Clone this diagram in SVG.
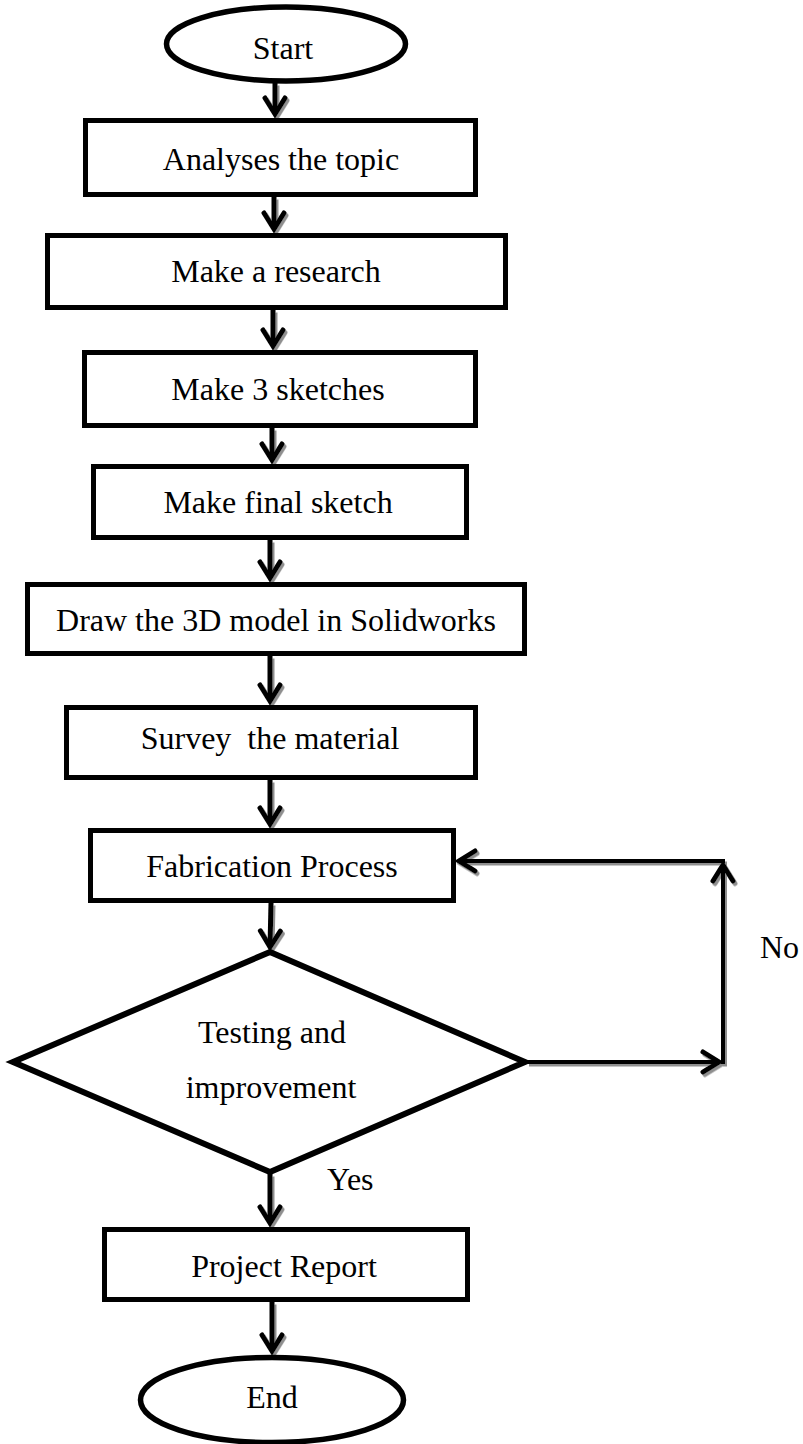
<svg xmlns="http://www.w3.org/2000/svg" width="803" height="1444" viewBox="0 0 803 1444">
<style>
.box{fill:#fff;stroke:#000;stroke-width:5}
.term{fill:#fff;stroke:#000;stroke-width:5.5}
.dec{fill:#fff;stroke:#000;stroke-width:6;stroke-linejoin:miter}
.lbl{font-family:"Liberation Serif","Times New Roman",serif;font-size:32px;fill:#000;text-anchor:middle}
.edge{font-family:"Liberation Serif","Times New Roman",serif;font-size:32px;fill:#000}
.conn{fill:none;stroke:#000;stroke-width:5;marker-end:url(#arr)}
.thin{stroke-width:4}
</style>
<defs>
<marker id="arr" viewBox="-20 -13 26 26" refX="0" refY="0" markerWidth="26" markerHeight="26" markerUnits="userSpaceOnUse" orient="auto">
<path d="M-16,-10 L0,0 L-16,10" fill="none" stroke="#000" stroke-width="5" stroke-linecap="round"/>
</marker>
<filter id="sh" x="-20%" y="-20%" width="140%" height="140%">
<feDropShadow dx="2" dy="2.5" stdDeviation="0.6" flood-color="#7a7a7a" flood-opacity="0.85"/>
</filter>
</defs>
<rect width="803" height="1444" fill="#fff"/>

<g id="connectors" filter="url(#sh)">
<path class="conn" d="M275,83 L275,114"/>
<path class="conn" d="M274,197 L274,229"/>
<path class="conn" d="M273,310 L273,346"/>
<path class="conn" d="M272,428 L272,460"/>
<path class="conn" d="M270,540 L270,578"/>
<path class="conn" d="M270,656 L270,701"/>
<path class="conn" d="M270,780 L270,824"/>
<path class="conn" d="M271,903 L270,947"/>
<path class="conn" d="M270,1174 L270,1223"/>
<path class="conn" d="M272,1302 L272,1351"/>
<path class="conn thin" d="M527,1062 L719,1062"/>
<path class="conn thin" d="M723,1064 L723,865"/>
<path class="conn thin" d="M725,861 L459,861"/>
</g>

<g id="start">
<ellipse class="term" cx="286" cy="44" rx="119.5" ry="37"/>
<text class="lbl" x="283" y="59">Start</text>
</g>
<g id="analyses">
<rect class="box" x="85.5" y="120.5" width="390" height="74"/>
<text class="lbl" x="281" y="170">Analyses the topic</text>
</g>
<g id="research">
<rect class="box" x="47.5" y="235.5" width="458" height="72"/>
<text class="lbl" x="276" y="282">Make a research</text>
</g>
<g id="sketches">
<rect class="box" x="84.5" y="352.5" width="391" height="73"/>
<text class="lbl" x="278" y="400">Make 3 sketches</text>
</g>
<g id="final">
<rect class="box" x="93.5" y="466.5" width="373" height="71"/>
<text class="lbl" x="278" y="513">Make final sketch</text>
</g>
<g id="model">
<rect class="box" x="27.5" y="584.5" width="497" height="69"/>
<text class="lbl" x="276" y="631">Draw the 3D model in Solidworks</text>
</g>
<g id="survey">
<rect class="box" x="66.5" y="707.5" width="409" height="70"/>
<text class="lbl" x="270" y="749" xml:space="preserve">Survey  the material</text>
</g>
<g id="fabrication">
<rect class="box" x="90.5" y="830.5" width="363" height="70"/>
<text class="lbl" x="272" y="877">Fabrication Process</text>
</g>
<g id="testing">
<polygon class="dec" points="270,952 525,1062 270,1172 13,1062"/>
<text class="lbl" x="272" y="1043">Testing and</text>
<text class="lbl" x="271" y="1098">improvement</text>
</g>
<g id="report">
<rect class="box" x="104.5" y="1229.5" width="363" height="70"/>
<text class="lbl" x="284" y="1277">Project Report</text>
</g>
<g id="end">
<ellipse class="term" cx="272" cy="1400" rx="131.5" ry="42.5"/>
<text class="lbl" x="272" y="1408">End</text>
</g>

<g id="edge-labels">
<text class="edge" x="760" y="958">No</text>
<text class="edge" x="327" y="1190">Yes</text>
</g>
</svg>
